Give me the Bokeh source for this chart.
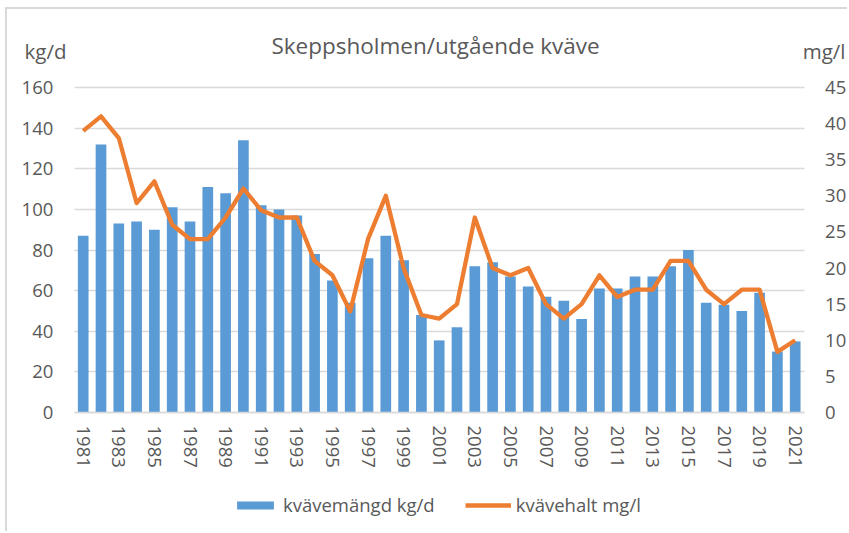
from bokeh.plotting import figure
from bokeh.models import (Range1d, LinearAxis, FixedTicker,
                          Legend, LegendItem, Label, ColumnDataSource, Grid)
from bokeh.embed import file_html
from bokeh.resources import INLINE

years = list(range(1981, 2022))
mangd_kg_d = [87, 132, 93, 94, 90, 101, 94, 111, 108, 134,
              102, 100, 97, 78, 65, 54, 76, 87, 75, 48,
              35.5, 42, 72, 74, 67, 62, 57, 55, 46, 61,
              61, 67, 67, 72, 80, 54, 53, 50, 59, 30,
              35]
halt_mg_l = [39, 41, 38, 29, 32, 26, 24, 24, 27, 31,
             28, 27, 27, 21, 19, 14, 24, 30, 20, 13.5,
             13, 15, 27, 20, 19, 20, 15, 13, 15, 19,
             16, 17, 17, 21, 21, 17, 15, 17, 17, 8.4,
             10]
year_ticks = list(range(1981, 2022, 2))
kg_ticks = [0, 20, 40, 60, 80, 100, 120, 140, 160]
mg_ticks = [0, 5, 10, 15, 20, 25, 30, 35, 40, 45]

title_text = "Skeppsholmen/utgående kväve"
left_unit = "kg/d"
right_unit = "mg/l"
bar_name = "kvävemängd kg/d"
line_name = "kvävehalt mg/l"

FONT = "Open Sans"
TXT = "#595959"
GRID = "#d9d9d9"
BLUE = "#5B9BD5"
ORANGE = "#ED7D31"

# ---- layout (canvas pixels) ----
W, H = 842, 524
OX, OY = 7, 9                   # canvas origin on the page
PX_YEAR = 17.8                  # px per category
X_FIRST = 82.7 - OX             # centre of first bar, canvas px
Y_ZERO = 412 - OY               # baseline, canvas px
Y_TOP = 87 - OY                 # 160 kg/d / 45 mg/l line
kg_px = (Y_ZERO - Y_TOP) / 160.0
mg_px = (Y_ZERO - Y_TOP) / 45.0

x_lo = years[0] - X_FIRST / PX_YEAR
x_hi = years[0] + (W - X_FIRST) / PX_YEAR
xs = lambda px: x_lo + px / PX_YEAR
ykg = lambda py: (Y_ZERO - py) / kg_px

src = ColumnDataSource(dict(year=years, kg=mangd_kg_d, mg=halt_mg_l))

p = figure(width=W, height=H, output_backend="svg", toolbar_location=None,
           x_range=Range1d(x_lo, x_hi),
           y_range=Range1d(-(H - Y_ZERO) / kg_px, Y_ZERO / kg_px),
           min_border=0, outline_line_color=None,
           background_fill_color="white", border_fill_color="white")
p.styles = {"margin-top": "7px", "margin-left": "5px",
            "border-top": "2px solid #d9d9d9", "border-left": "2px solid #d9d9d9"}
p.extra_y_ranges = {"mg": Range1d(-(H - Y_ZERO) / mg_px, Y_ZERO / mg_px)}

x_lo_b, x_hi_b = years[0] - 0.5, years[-1] + 0.5

common = dict(major_tick_line_color=None, minor_tick_line_color=None,
              major_tick_out=0, major_tick_in=0, minor_tick_out=0, minor_tick_in=0,
              major_label_text_font=FONT, major_label_text_font_size="18.5px",
              major_label_text_color=TXT)

# x axis, fixed at the zero line
xa = p.xaxis[0]
xa.fixed_location = 0
xa.bounds = (x_lo_b, x_hi_b)
xa.ticker = FixedTicker(ticks=year_ticks)
xa.major_label_orientation = "vertical"
xa.axis_line_color = GRID
xa.axis_line_width = 1.5
xa.major_label_standoff = 13
for k, v in common.items():
    setattr(xa, k, v)

ya = p.yaxis[0]
ya.fixed_location = x_lo_b
ya.bounds = (0, 160)
ya.ticker = FixedTicker(ticks=kg_ticks)
ya.axis_line_color = None
ya.major_label_standoff = 21
for k, v in common.items():
    setattr(ya, k, v)

ry = LinearAxis(y_range_name="mg", ticker=FixedTicker(ticks=mg_ticks),
                fixed_location=x_hi_b, bounds=(0, 45), axis_line_color=None,
                major_label_standoff=21, **common)
p.add_layout(ry, "right")

p.xgrid.grid_line_color = None
if "cross_bounds" in Grid.properties():
    p.ygrid.ticker = FixedTicker(ticks=kg_ticks)
    p.ygrid.cross_bounds = (x_lo_b, x_hi_b)
    p.ygrid.grid_line_color = GRID
    p.ygrid.grid_line_width = 1.5
else:
    p.ygrid.grid_line_color = None
    p.segment(x0=[x_lo_b] * len(kg_ticks), x1=[x_hi_b] * len(kg_ticks),
              y0=kg_ticks, y1=kg_ticks, line_color=GRID, line_width=1.5,
              level="underlay")

bars = p.vbar(x="year", top="kg", width=0.6, source=src, fill_color=BLUE,
              line_color=None)
line = p.line(x="year", y="mg", source=src, line_color=ORANGE, line_width=4.3,
              y_range_name="mg", line_join="round")

legend = Legend(items=[LegendItem(label=bar_name, renderers=[bars]),
                       LegendItem(label=line_name, renderers=[line])],
                orientation="horizontal", location=(232 - OX, 16),
                border_line_color=None, background_fill_alpha=0,
                glyph_width=46, glyph_height=10, label_standoff=5, spacing=30,
                label_text_font=FONT, label_text_font_size="18.5px",
                label_text_color=TXT, padding=0, margin=0, label_height=10)
p.add_layout(legend)

p.add_layout(Label(x=xs(435 - OX), y=ykg(44.5 - OY), text=title_text,
                   text_align="center", text_baseline="middle", text_font=FONT,
                   text_font_size="22.5px", text_color=TXT))
p.add_layout(Label(x=xs(24 - OX), y=ykg(50 - OY), text=left_unit,
                   text_align="left", text_baseline="middle", text_font=FONT,
                   text_font_size="20.5px", text_color=TXT))
p.add_layout(Label(x=xs(845 - OX), y=ykg(50 - OY), text=right_unit,
                   text_align="right", text_baseline="middle", text_font=FONT,
                   text_font_size="20.5px", text_color=TXT))

open("out.html", "w").write(file_html(p, INLINE))
